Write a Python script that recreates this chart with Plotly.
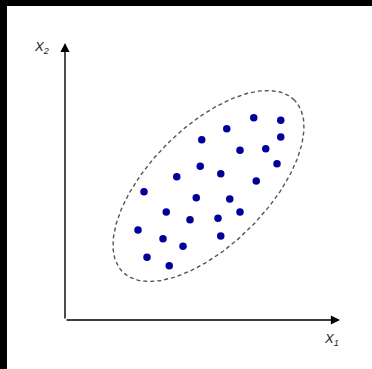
import numpy as np
import plotly.graph_objects as go

# ── scatter points (x1, x2) ──
x1_values = [7.55, 8.63, 6.47, 8.63, 5.47, 7.00, 8.03, 8.48, 5.41, 6.23,
             4.47, 7.65, 3.16, 5.25, 6.59, 4.05, 7.00, 5.00, 6.12, 2.92,
             3.92, 6.23, 4.72, 3.28, 4.17]
x2_values = [8.09, 7.99, 7.65, 7.32, 7.21, 6.79, 6.85, 6.25, 6.15, 5.85,
             5.73, 5.56, 5.13, 4.89, 4.84, 4.32, 4.32, 4.01, 4.07, 3.60,
             3.25, 3.36, 2.95, 2.51, 2.17]

# ── dashed ellipse around the cloud ──
ellipse_center = (5.74, 5.36)
ellipse_axes = (4.86, 2.36)      # semi-major, semi-minor
ellipse_angle_deg = 45

# axis arrow lengths
x1_axis_len = 11.0
x2_axis_len = 11.08

t = np.linspace(0, 2 * np.pi, 300)
th = np.radians(ellipse_angle_deg)
a, b = ellipse_axes
ex = ellipse_center[0] + a * np.cos(t) * np.cos(th) - b * np.sin(t) * np.sin(th)
ey = ellipse_center[1] + a * np.cos(t) * np.sin(th) + b * np.sin(t) * np.cos(th)

fig = go.Figure()
fig.add_trace(go.Scatter(
    x=ex, y=ey, mode="lines",
    line=dict(color="#555555", width=1.4, dash="4px,3px"),
    hoverinfo="skip",
))
fig.add_trace(go.Scatter(
    x=x1_values, y=x2_values, mode="markers",
    marker=dict(color="#000099", size=7.5),
))

# axes drawn as arrows from the origin
arrow = dict(xref="x", yref="y", axref="x", ayref="y", text="",
             showarrow=True, arrowhead=2, arrowsize=1.3, arrowwidth=1.4,
             arrowcolor="#000000")
fig.add_annotation(x=x1_axis_len, y=0, ax=0, ay=0, **arrow)
fig.add_annotation(x=0, y=x2_axis_len, ax=0, ay=0, **arrow)

label_font = dict(family="Liberation Sans, Arial", size=13, color="#222222")
fig.add_annotation(x=-0.96, y=10.92, text="<i>X<sub>2</sub></i>",
                   showarrow=False, font=label_font)
fig.add_annotation(x=10.64, y=-0.76, text="<i>X<sub>1</sub></i>",
                   showarrow=False, font=label_font)

# black strip on the left and top edges of the picture
fig.add_shape(type="rect", xref="paper", yref="paper",
              x0=0, x1=7 / 372, y0=0, y1=1,
              fillcolor="black", line_width=0, layer="above")
fig.add_shape(type="rect", xref="paper", yref="paper",
              x0=0, x1=1, y0=1 - 6 / 369, y1=1,
              fillcolor="black", line_width=0, layer="above")

fig.update_layout(
    width=372, height=369,
    margin=dict(l=0, r=0, t=0, b=0),
    paper_bgcolor="white", plot_bgcolor="white",
    showlegend=False,
    xaxis=dict(range=[-2.6, 12.28], visible=False),
    yaxis=dict(range=[-1.96, 12.8], visible=False),
)

# drop the page's default body margin so the figure fills the window
fig.write_html("out.html", config={"displayModeBar": False},
               post_script="document.body.style.margin='0';")
